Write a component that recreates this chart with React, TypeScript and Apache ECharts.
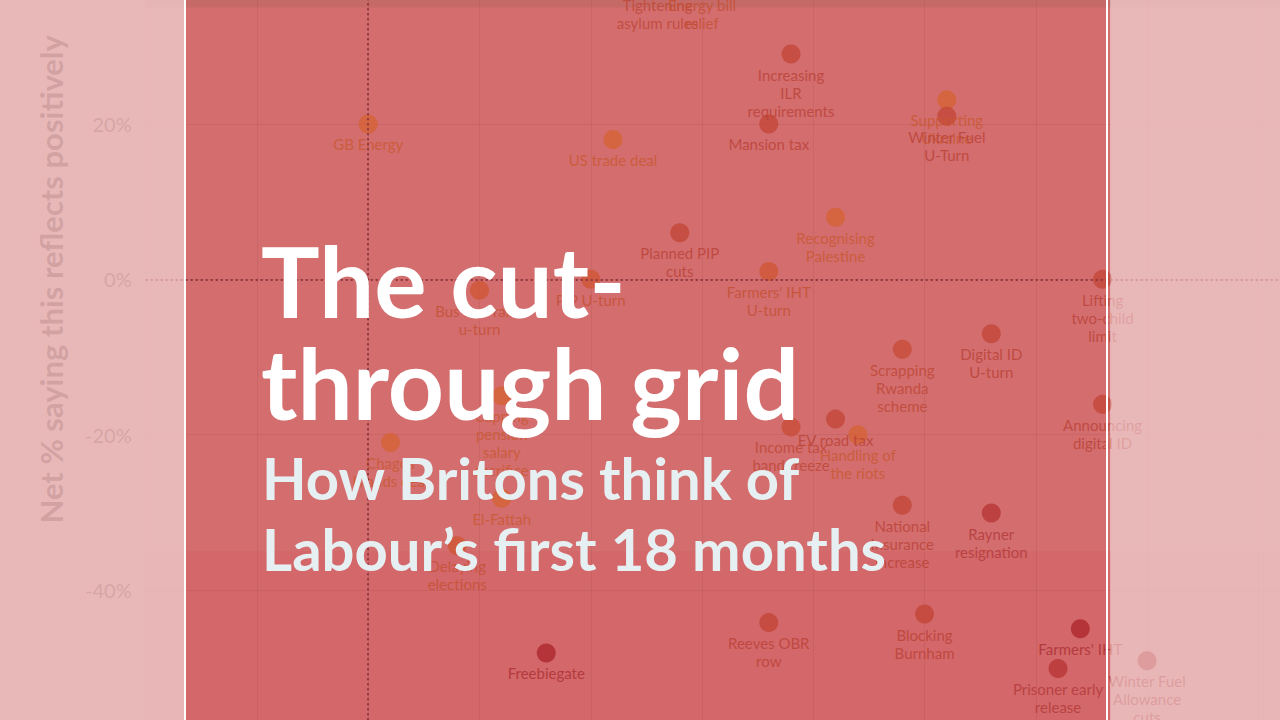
import React, { useEffect, useRef } from "react";
import * as echarts from "echarts";

// ---------- data ----------
const names = [
  "GB Energy",
  "Tightening\nasylum rules",
  "Energy bill\nrelief",
  "Increasing\nILR\nrequirements",
  "Mansion tax",
  "US trade deal",
  "Supporting\nUkraine",
  "Winter Fuel\nU-Turn",
  "Recognising\nPalestine",
  "Planned PIP\ncuts",
  "Farmers' IHT\nU-turn",
  "PIP U-turn",
  "Bus fare raise\nu-turn",
  "Capping\npension\nsalary\nsacrifice",
  "Chagos\nIslands deal",
  "El-Fattah",
  "Delaying\nelections",
  "Freebiegate",
  "Reeves OBR\nrow",
  "Income tax\nband freeze",
  "EV road tax",
  "Handling of\nthe riots",
  "Scrapping\nRwanda\nscheme",
  "Digital ID\nU-turn",
  "Lifting\ntwo-child\nlimit",
  "Announcing\ndigital ID",
  "National\nInsurance\nincrease",
  "Rayner\nresignation",
  "Blocking\nBurnham",
  "Farmers' IHT",
  "Prisoner early\nrelease",
  "Winter Fuel\nAllowance\ncuts",
];
// % who have heard of it (x)
const heardOf = [
  20, 46, 50, 58, 56, 42, 72, 72, 62, 48, 56, 40, 30, 32, 22, 32, 28, 36, 56, 58,
  62, 64, 68, 76, 86, 86, 68, 76, 70, 84, 82, 90,
];
// net % saying this reflects positively (y)
const netPositive = [
  20, 38, 38, 29, 20, 18, 23.1, 21, 8, 6, 1, 0, -1.4, -15, -21, -28.2, -34.3, -48.1,
  -44.2, -19, -18, -20, -9, -7, 0, -16.1, -29.1, -30.1, -43.1, -45, -50.1, -49.1,
];
// colour group of each point
const tone = [
  0, 2, 1, 3, 3, 0, 0, 3, 0, 3, 1, 1, 1, 0, 0, 0, 1, 5, 3, 2, 3, 0, 2, 3, 3, 3, 3,
  4, 3, 5, 4, 5,
];
const yTickValues = [20, 0, -20, -40];
const REF_X = 20;
const REF_Y = 0;
const ZONE_TOP = 35;
const ZONE_BOTTOM = -35;

const TITLE = "The cut-\nthrough grid";
const SUBTITLE = "How Britons think of\nLabour\u2019s first 18 months";
const Y_NAME = "Net % saying this reflects positively";

// ---------- styles ----------
const TONE_COLORS = ["#d66234", "#cf5636", "#c84c38", "#c34638", "#b83636", "#ad282d"];
const LABEL_COLORS = ["#c9582f", "#c44f31", "#be4634", "#ba4135", "#b23838", "#ab2e32"];
const FONT = "Lato, 'Noto Sans', sans-serif";
const OFFSET_Y = 200;
const DIV_W = 1400;
const DIV_H = 1000;

export default function App() {
  const ref = useRef<HTMLDivElement>(null);

  useEffect(() => {
    const el = ref.current;
    if (!el) return;
    const chart = echarts.init(el, undefined, { renderer: "svg" });

    const points = names.map((n, i) => ({
      name: n,
      value: [heardOf[i], netPositive[i]],
      itemStyle: { color: TONE_COLORS[tone[i]] },
      label: { color: LABEL_COLORS[tone[i]] },
    }));

    const pinkOverlay = "rgba(228,170,172,0.84)";

    chart.setOption({
      animation: false,
      backgroundColor: "#ffffff",
      textStyle: { fontFamily: FONT },
      grid: {
        left: 145.7,
        top: 13.25,
        width: 1223.9,
        height: 932.1,
        containLabel: false,
        outerBoundsMode: "none",
      },
      xAxis: {
        type: "value",
        min: 0,
        max: 110,
        interval: 10,
        z: 2,
        axisLine: { show: false },
        axisTick: { show: false },
        axisLabel: { show: false },
        splitLine: { show: true, lineStyle: { color: "rgba(110,30,30,0.08)", width: 1 } },
      },
      yAxis: {
        type: "value",
        min: -60,
        max: 60,
        interval: 20,
        z: 2,
        name: Y_NAME,
        nameLocation: "middle",
        nameGap: 79,
        nameTextStyle: { color: "#777", fontSize: 31, fontWeight: "bold", fontFamily: FONT },
        axisLine: { show: false },
        axisTick: { show: false },
        axisLabel: {
          color: "#888",
          fontSize: 20,
          margin: 14,
          fontFamily: FONT,
          formatter: (v: number) => (yTickValues.includes(v) ? `${v}%` : ""),
        },
        splitLine: { show: true, lineStyle: { color: "rgba(110,30,30,0.08)", width: 1 } },
      },
      series: [
        {
          type: "scatter",
          data: [],
          z: 2,
          silent: true,
          markArea: {
            silent: true,
            data: [
              [{ yAxis: ZONE_TOP, itemStyle: { color: "rgba(110,90,60,0.12)" } }, { yAxis: 60 }],
              [{ yAxis: ZONE_BOTTOM, itemStyle: { color: "rgba(220,40,50,0.08)" } }, { yAxis: -60 }],
            ],
          },
        },
        {
          type: "scatter",
          z: 3,
          symbol: "circle",
          symbolSize: 19,
          data: points,
          label: {
            show: true,
            position: "bottom",
            distance: 2,
            formatter: "{b}",
            fontSize: 15,
            lineHeight: 18,
            fontFamily: FONT,
            align: "center",
          },
          emphasis: { disabled: true },
        },
        {
          type: "scatter",
          data: [],
          z: 5,
          silent: true,
          markLine: {
            silent: true,
            symbol: ["none", "none"],
            label: { show: false },
            lineStyle: { color: "#8c3641", width: 2, type: [2, 3] },
            emphasis: { disabled: true },
            data: [{ xAxis: REF_X }, { yAxis: REF_Y }],
          },
        },
      ],
      graphic: {
        elements: [
          {
            type: "rect",
            z: 1,
            silent: true,
            shape: { x: 184, y: 0, width: 926.5, height: DIV_H },
            style: { fill: "#d36d6e" },
          },
          {
            type: "rect",
            z: 10,
            silent: true,
            shape: { x: 0, y: 0, width: 184, height: DIV_H },
            style: { fill: pinkOverlay },
          },
          {
            type: "rect",
            z: 10,
            silent: true,
            shape: { x: 1110.5, y: 0, width: DIV_W - 1110.5, height: DIV_H },
            style: { fill: pinkOverlay },
          },
          {
            type: "rect",
            z: 11,
            silent: true,
            shape: { x: 184, y: 0, width: 2, height: DIV_H },
            style: { fill: "#ffffff" },
          },
          {
            type: "rect",
            z: 11,
            silent: true,
            shape: { x: 1106, y: 0, width: 2, height: DIV_H },
            style: { fill: "#ffffff" },
          },
          {
            type: "text",
            z: 12,
            silent: true,
            x: 261,
            y: 229 + OFFSET_Y,
            style: {
              text: TITLE,
              font: `bold 98px ${FONT}`,
              fill: "#ffffff",
              lineHeight: 102,
              textVerticalAlign: "top",
            },
          },
          {
            type: "text",
            z: 12,
            silent: true,
            x: 262,
            y: 442 + OFFSET_Y,
            style: {
              text: SUBTITLE,
              font: `bold 58px ${FONT}`,
              fill: "#e6f0f2",
              lineHeight: 71,
              textVerticalAlign: "top",
            },
          },
        ],
      },
    });

    return () => chart.dispose();
  }, []);

  return (
    <div
      ref={ref}
      style={{ position: "fixed", left: 0, top: -OFFSET_Y, width: DIV_W, height: DIV_H }}
    />
  );
}
